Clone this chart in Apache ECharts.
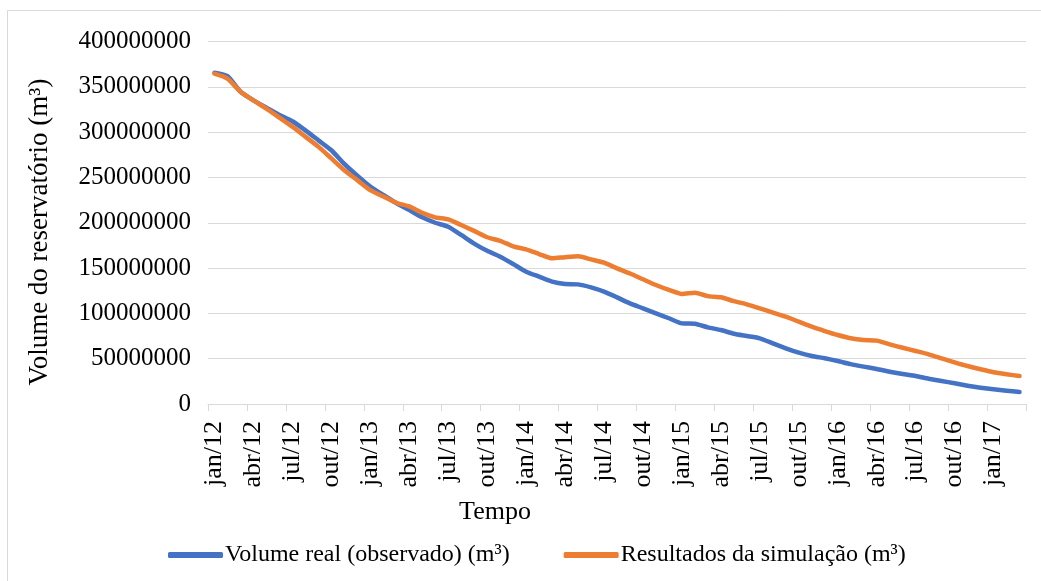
<!DOCTYPE html>
<html>
<head>
<meta charset="utf-8">
<script src="https://cdn.jsdelivr.net/npm/echarts@6/dist/echarts.min.js"></script>
<style>
html,body{margin:0;padding:0;background:#fff;}
#chart{width:1041px;height:581px;}
</style>
</head>
<body>
<div id="chart"></div>
<script>
const monthNames = ['jan','fev','mar','abr','mai','jun','jul','ago','set','out','nov','dez'];
const years = ['12','13','14','15','16','17'];
const monthCount = 63;
const categories = [];
for (let i = 0; i < monthCount; i++) {
  categories.push(monthNames[i % 12] + '/' + years[Math.floor(i / 12)]);
}
const observed = [
  365600000, 361800000, 344600000, 335000000, 327000000, 319000000, 312000000, 302000000, 291000000, 280000000,
  265000000, 252000000, 240000000, 230600000, 221800000, 214000000, 206000000, 200000000, 195600000, 186500000,
  177000000, 169000000, 162500000, 154500000, 146000000, 140500000, 135000000, 132400000, 132000000, 128700000,
  124000000, 117700000, 111000000, 105600000, 100000000, 94600000, 89000000, 88500000, 84600000, 81600000,
  77500000, 75000000, 72500000, 67000000, 61400000, 56600000, 53000000, 50400000, 47400000, 44000000,
  41200000, 38600000, 35600000, 33100000, 30900000, 27900000, 25400000, 22800000, 20200000, 18000000,
  16200000, 14700000, 13200000
];
const simulated = [
  364500000, 359000000, 344600000, 335000000, 326000000, 316000000, 306000000, 295000000, 284000000, 271000000,
  258000000, 247000000, 236000000, 229000000, 222000000, 218000000, 211000000, 206000000, 203700000, 197500000,
  191000000, 184000000, 180000000, 174000000, 170600000, 165500000, 160700000, 162000000, 163000000, 159600000,
  156000000, 149700000, 144000000, 137600000, 131300000, 125800000, 121400000, 122800000, 119000000, 117700000,
  113500000, 110000000, 105600000, 100800000, 96300000, 90800000, 85300000, 80500000, 76100000, 72500000,
  70600000, 69900000, 65800000, 62100000, 58500000, 54800000, 50400000, 46000000, 41900000, 38300000,
  35000000, 32800000, 30900000
];
const seriesNames = ['Volume real (observado) (m³)', 'Resultados da simulação (m³)'];
const yTitle = 'Volume do reservatório (m³)';
const xTitle = 'Tempo';

const FONT = '"Liberation Serif", "Times New Roman", serif';
const chart = echarts.init(document.getElementById('chart'), null, {renderer: 'canvas'});
chart.setOption({
  animation: false,
  backgroundColor: '#fff',
  grid: {left: 208, right: 15, top: 41.5, bottom: 177, containLabel: false},
  xAxis: {
    type: 'category',
    data: categories,
    boundaryGap: true,
    axisLine: {show: true, lineStyle: {color: '#d9d9d9', width: 1}},
    axisTick: {show: true, interval: 2, length: 7, lineStyle: {color: '#d9d9d9', width: 1}},
    axisLabel: {interval: 2, rotate: 90, margin: 17, fontSize: 26, fontFamily: FONT, color: '#000'},
    splitLine: {show: false}
  },
  yAxis: {
    type: 'value',
    min: 0, max: 400000000, interval: 50000000,
    axisLine: {show: false},
    axisTick: {show: false},
    axisLabel: {margin: 17, fontSize: 25, fontFamily: FONT, color: '#000', formatter: v => String(v)},
    splitLine: {show: true, lineStyle: {color: '#d9d9d9', width: 1}}
  },
  legend: {
    left: 163, top: 538,
    itemWidth: 55, itemHeight: 6, itemGap: 54,
    icon: 'roundRect',
    textStyle: {fontSize: 24, fontFamily: FONT, color: '#000', padding: [0,0,0,-3]},
    data: seriesNames
  },
  graphic: [
    {type: 'rect', silent: true, shape: {x: 7.5, y: 10.5, width: 1100, height: 700}, style: {fill: 'none', stroke: '#d9d9d9', lineWidth: 1}},
    {type: 'text', x: 40, y: 232, rotation: Math.PI / 2, style: {text: yTitle, font: '27px ' + FONT, fill: '#000', align: 'center', verticalAlign: 'middle'}},
    {type: 'text', x: 495, y: 512, style: {text: xTitle, font: '26px ' + FONT, fill: '#000', align: 'center', verticalAlign: 'middle'}}
  ],
  series: [
    {name: seriesNames[0], type: 'line', data: observed, showSymbol: false, symbol: 'none', smooth: 0.2,
     lineStyle: {color: '#4472C4', width: 4.5, cap: 'round', join: 'round'}, itemStyle: {color: '#4472C4'}},
    {name: seriesNames[1], type: 'line', data: simulated, showSymbol: false, symbol: 'none', smooth: 0.2,
     lineStyle: {color: '#ED7D31', width: 4.5, cap: 'round', join: 'round'}, itemStyle: {color: '#ED7D31'}}
  ]
});
</script>
</body>
</html>
